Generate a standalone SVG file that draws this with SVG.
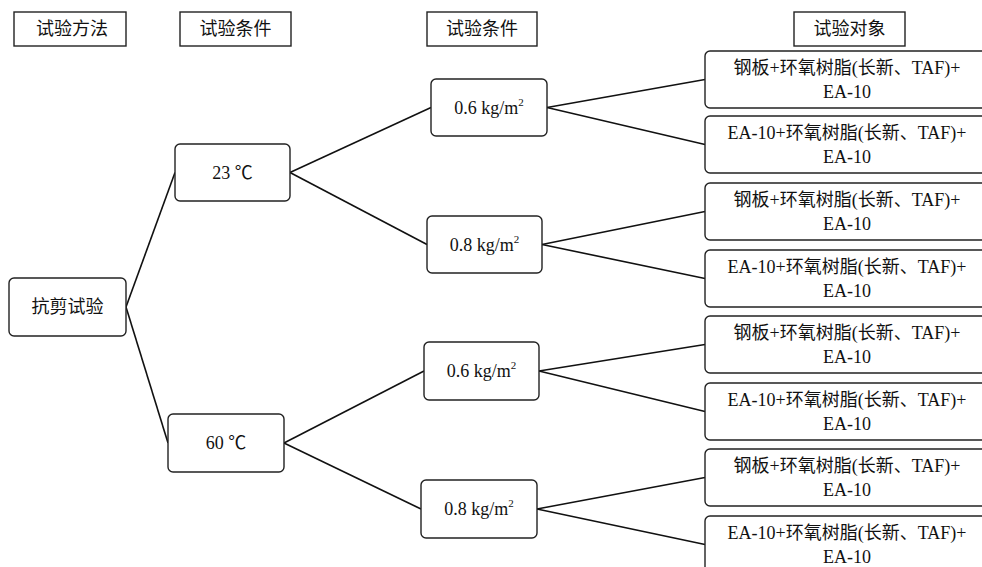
<svg xmlns="http://www.w3.org/2000/svg" width="982" height="567" viewBox="0 0 982 567">
  <style>
    .hdr { fill: #fff; stroke: #222; stroke-width: 1.4; }
    .box { fill: #fff; stroke: #222; stroke-width: 1.4; }
    .lbl { font-family: "Liberation Serif", "Noto Sans CJK SC", serif; font-size: 18px; fill: #111; text-anchor: middle; dominant-baseline: central; }
    .conn line { stroke: #111; stroke-width: 1.6; }
  </style>
  <rect width="982" height="567" fill="#fff"/>

  <!-- column headers -->
  <g id="hdr-method"><rect class="hdr" x="14" y="12" width="112" height="34"/><text class="lbl" x="72" y="29">试验方法</text></g>
  <g id="hdr-cond1"><rect class="hdr" x="180" y="12" width="111" height="34"/><text class="lbl" x="235.5" y="29">试验条件</text></g>
  <g id="hdr-cond2"><rect class="hdr" x="427" y="12" width="110" height="34"/><text class="lbl" x="482" y="29">试验条件</text></g>
  <g id="hdr-object"><rect class="hdr" x="794" y="12" width="111" height="34"/><text class="lbl" x="849.5" y="29">试验对象</text></g>

  <!-- connectors -->
  <g id="connectors" class="conn">
    <line x1="126" y1="307" x2="175" y2="172.5"/>
    <line x1="126" y1="307" x2="168" y2="443"/>
    <line x1="290" y1="172.5" x2="431" y2="107.5"/>
    <line x1="290" y1="172.5" x2="427" y2="244.5"/>
    <line x1="284" y1="443" x2="424" y2="371"/>
    <line x1="284" y1="443" x2="421" y2="509"/>
    <line x1="547" y1="107.5" x2="705" y2="79.5"/>
    <line x1="547" y1="107.5" x2="705" y2="144.5"/>
    <line x1="542" y1="244.5" x2="705" y2="211.5"/>
    <line x1="542" y1="244.5" x2="705" y2="278.5"/>
    <line x1="539" y1="371" x2="705" y2="344.5"/>
    <line x1="539" y1="371" x2="705" y2="411.5"/>
    <line x1="537" y1="509" x2="705" y2="477.5"/>
    <line x1="537" y1="509" x2="705" y2="544.5"/>
  </g>

  <!-- method -->
  <g id="shear-test"><rect class="box" x="9" y="278" width="117" height="58" rx="5"/><text class="lbl" x="67.5" y="307">抗剪试验</text></g>

  <!-- temperatures -->
  <g id="temp-23"><rect class="box" x="175" y="144" width="115" height="57" rx="5"/><text class="lbl" x="232.5" y="172.5">23 ℃</text></g>
  <g id="temp-60"><rect class="box" x="168" y="414" width="116" height="58" rx="5"/><text class="lbl" x="226" y="443">60 ℃</text></g>

  <!-- coating amounts -->
  <g id="amt-23-06"><rect class="box" x="431" y="79" width="116" height="57" rx="5"/><text class="lbl" x="489" y="107.5">0.6 kg/m<tspan font-size="11" baseline-shift="super">2</tspan></text></g>
  <g id="amt-23-08"><rect class="box" x="427" y="216" width="115" height="57" rx="5"/><text class="lbl" x="484.5" y="244.5">0.8 kg/m<tspan font-size="11" baseline-shift="super">2</tspan></text></g>
  <g id="amt-60-06"><rect class="box" x="424" y="342" width="115" height="58" rx="5"/><text class="lbl" x="481.5" y="371">0.6 kg/m<tspan font-size="11" baseline-shift="super">2</tspan></text></g>
  <g id="amt-60-08"><rect class="box" x="421" y="480" width="116" height="58" rx="5"/><text class="lbl" x="479" y="509">0.8 kg/m<tspan font-size="11" baseline-shift="super">2</tspan></text></g>

  <!-- specimens -->
  <g id="obj-1"><rect class="box" x="705" y="51" width="300" height="57" rx="5"/><text class="lbl" x="847" y="67.5">钢板+环氧树脂(长新、TAF)+</text><text class="lbl" x="847" y="92">EA-10</text></g>
  <g id="obj-2"><rect class="box" x="705" y="116" width="300" height="57" rx="5"/><text class="lbl" x="847" y="132.5">EA-10+环氧树脂(长新、TAF)+</text><text class="lbl" x="847" y="157">EA-10</text></g>
  <g id="obj-3"><rect class="box" x="705" y="183" width="300" height="57" rx="5"/><text class="lbl" x="847" y="199.5">钢板+环氧树脂(长新、TAF)+</text><text class="lbl" x="847" y="224">EA-10</text></g>
  <g id="obj-4"><rect class="box" x="705" y="250" width="300" height="57" rx="5"/><text class="lbl" x="847" y="266.5">EA-10+环氧树脂(长新、TAF)+</text><text class="lbl" x="847" y="291">EA-10</text></g>
  <g id="obj-5"><rect class="box" x="705" y="316" width="300" height="57" rx="5"/><text class="lbl" x="847" y="332.5">钢板+环氧树脂(长新、TAF)+</text><text class="lbl" x="847" y="357">EA-10</text></g>
  <g id="obj-6"><rect class="box" x="705" y="383" width="300" height="57" rx="5"/><text class="lbl" x="847" y="399.5">EA-10+环氧树脂(长新、TAF)+</text><text class="lbl" x="847" y="424">EA-10</text></g>
  <g id="obj-7"><rect class="box" x="705" y="449" width="300" height="57" rx="5"/><text class="lbl" x="847" y="465.5">钢板+环氧树脂(长新、TAF)+</text><text class="lbl" x="847" y="490">EA-10</text></g>
  <g id="obj-8"><rect class="box" x="705" y="516" width="300" height="57" rx="5"/><text class="lbl" x="847" y="532.5">EA-10+环氧树脂(长新、TAF)+</text><text class="lbl" x="847" y="557">EA-10</text></g>
</svg>
